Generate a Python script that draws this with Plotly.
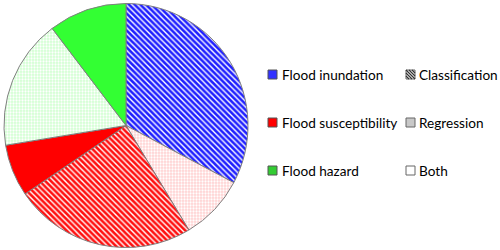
import plotly.graph_objects as go

# Data (counts)
slice_labels = ["Flood inundation – Classification", "Flood susceptibility – Regression",
                "Flood susceptibility – Classification", "Flood susceptibility – Both",
                "Flood hazard – Regression", "Flood hazard – Both"]
slice_values = [19, 5, 14, 4, 10, 6]
slice_shapes = ["\\", ".", "\\", "", ".", ""]
slice_fg = ["#2020ff", "#ffffff", "#ff1010", "#ff0000", "#ffffff", "#33ff33"]
slice_bg = ["#ffffff", "#ffd2d2", "#ffffff", "#ff0000", "#d2ffd2", "#33ff33"]
slice_colors = ["#ffffff", "#ffd2d2", "#ffffff", "#ff0000", "#d2ffd2", "#33ff33"]

color_legend_labels = ["Flood inundation", "Flood susceptibility", "Flood hazard"]
color_legend_colors = ["#3333ff", "#ff0000", "#33cc33"]
pattern_legend_labels = ["Classification", "Regression", "Both"]

W, H = 500, 250
def px(x): return x / W
def py(y): return 1 - y / H

fig = go.Figure()
fig.add_trace(go.Pie(
    labels=slice_labels, values=slice_values, sort=False, direction="clockwise",
    rotation=0, textinfo="none", hoverinfo="label+value", showlegend=False,
    domain=dict(x=[px(4), px(248)], y=[py(247.5), py(3.5)]),
    marker=dict(colors=slice_colors, line=dict(color="#7f7f7f", width=1),
                pattern=dict(shape=slice_shapes, fgcolor=slice_fg, bgcolor=slice_bg,
                             size=[4, 3, 4, 4, 3, 4], solidity=[0.65, 0.45, 0.65, 0.5, 0.45, 0.5],
                             fillmode="replace")),
))

rows_y = [74.5, 122.5, 170.5]
shapes = []
annotations = []
font = dict(family="Lato, Carlito, Calibri, sans-serif", size=13.6, color="#000000")
sq = 9
for i, (lab, col) in enumerate(zip(color_legend_labels, color_legend_colors)):
    cy = rows_y[i]
    x0, x1 = 268, 268 + sq
    shapes.append(dict(type="rect", xref="paper", yref="paper",
                       x0=px(x0), x1=px(x1), y0=py(cy - sq / 2), y1=py(cy + sq / 2),
                       fillcolor=col, line=dict(color="#555555", width=1)))
    annotations.append(dict(text=lab, xref="paper", yref="paper", x=px(280), y=py(cy),
                            xanchor="left", yanchor="middle", showarrow=False, font=font))

pat_fill = ["#ffffff", "#c8c8c8", "#ffffff"]
for i, (lab, fc) in enumerate(zip(pattern_legend_labels, pat_fill)):
    cy = rows_y[i]
    x0, x1 = 406, 406 + sq
    y0, y1 = cy - sq / 2, cy + sq / 2
    shapes.append(dict(type="rect", xref="paper", yref="paper",
                       x0=px(x0), x1=px(x1), y0=py(y0), y1=py(y1),
                       fillcolor=fc, line=dict(color="#666666", width=1)))
    if i == 0:
        path = ""
        for d in [-6, -3, 0, 3, 6]:
            ax, ay = x0 + max(0, d), y0 + max(0, -d)
            bx, by = x1 - max(0, -d), y1 - max(0, d)
            path += f"M{px(ax)},{py(ay)} L{px(bx)},{py(by)} "
        shapes.append(dict(type="path", xref="paper", yref="paper", path=path,
                           line=dict(color="#333333", width=1.2)))
    annotations.append(dict(text=lab, xref="paper", yref="paper", x=px(417), y=py(cy),
                            xanchor="left", yanchor="middle", showarrow=False, font=font))

fig.update_layout(width=W, height=H, margin=dict(l=0, r=0, t=0, b=0),
                  paper_bgcolor="white", plot_bgcolor="white",
                  shapes=shapes, annotations=annotations, showlegend=False)
fig.write_html("out.html", config={"displayModeBar": False},
               post_script="document.body.style.margin='0';document.body.style.overflow='hidden';")
